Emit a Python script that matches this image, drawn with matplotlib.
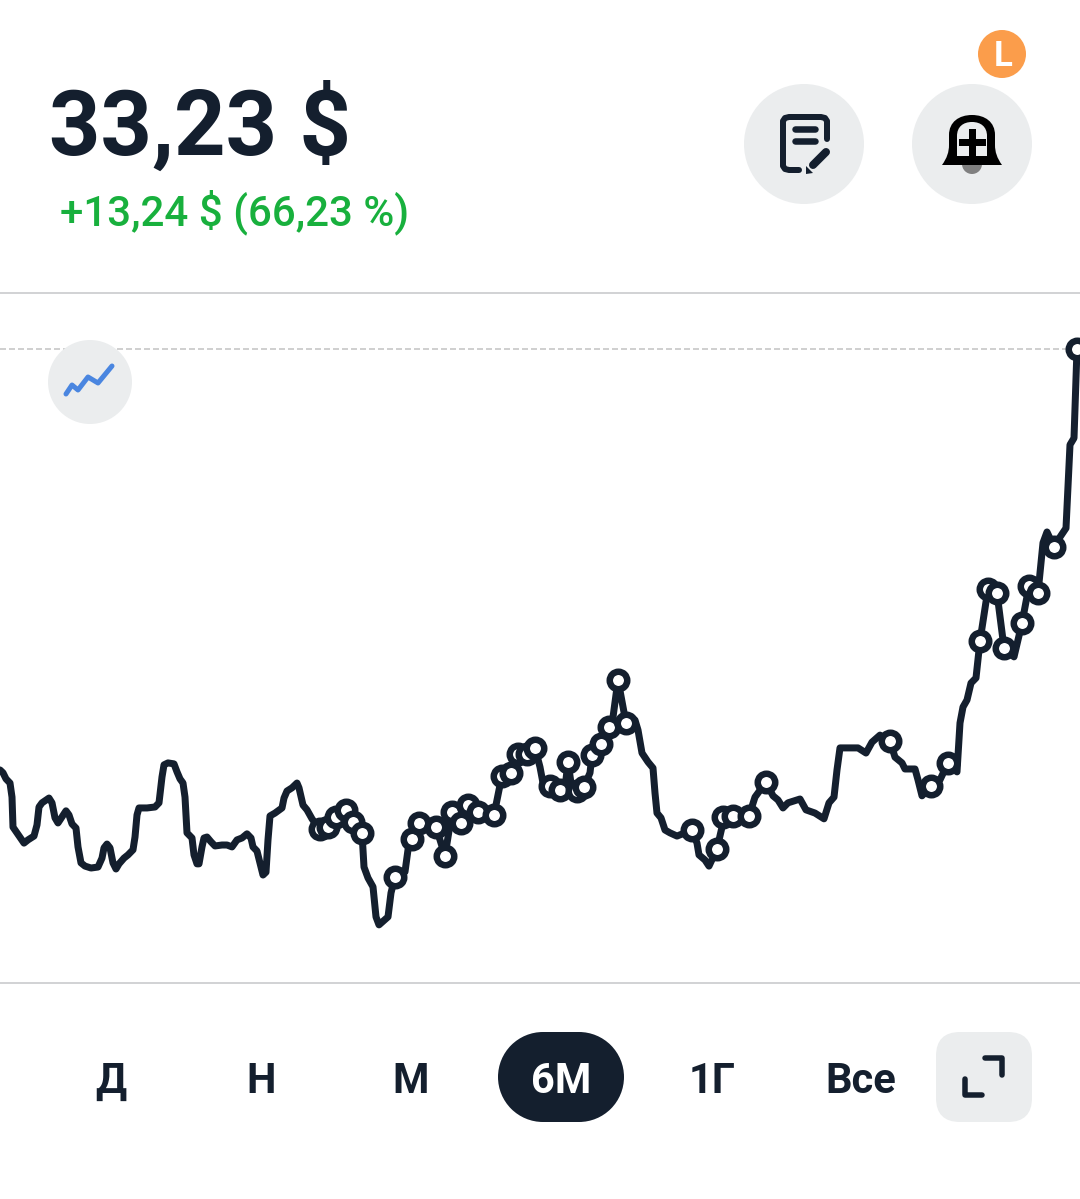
import matplotlib
matplotlib.use("Agg")
import matplotlib.pyplot as plt
from matplotlib.patches import Circle, FancyBboxPatch, PathPatch, Polygon, Rectangle, Wedge
from matplotlib.path import Path

# values
price_label = "33,23 $"
change_label = "+13,24 $ (66,23 %)"
periods = ["Д", "Н", "М", "6М", "1Г", "Все"]
period_x = [111, 261, 411, 561, 712, 861]
high_price = 33.23

line_x = [0, 3, 6, 10, 12, 13, 17, 20, 24, 28, 34, 37, 39, 42, 49, 52, 55, 58, 62, 66, 69, 72, 76, 78, 81, 85, 91, 98,
          102, 104, 107, 110, 113, 116, 119, 124, 128, 133, 135, 137, 139, 147, 155, 159, 162, 164, 168, 174, 177,
          180, 183, 185, 187, 192, 194, 197, 199, 202, 204, 207, 211, 215, 222, 227, 232, 237, 242, 247, 251, 253,
          257, 260, 263, 266, 268, 270, 275, 282, 284, 287, 292, 297, 299, 303, 307, 312, 315, 320, 328, 336, 346,
          353, 362, 364, 368, 373, 376, 379, 388, 391, 395, 405, 408, 412, 419, 436, 445, 452, 461, 468, 478, 494,
          499, 502, 511, 518, 527, 535, 540, 543, 550, 560, 565, 568, 572, 577, 584, 590, 592, 601, 609, 613, 618,
          626, 635, 638, 642, 648, 653, 655, 657, 661, 665, 670, 677, 692, 697, 699, 705, 709, 717, 722, 723, 733,
          749, 755, 766, 773, 778, 783, 788, 800, 806, 815, 824, 829, 834, 837, 840, 848, 858, 866, 872, 880, 890,
          895, 902, 905, 915, 918, 922, 931, 940, 948, 957, 960, 963, 967, 971, 976, 980, 988, 997, 1004, 1014,
          1022, 1029, 1038, 1043, 1047, 1054, 1060, 1066, 1070, 1074, 1077]
line_price = [20.05, 19.96, 19.77, 19.64, 19.20, 18.26, 18.08, 17.95, 17.76, 17.86, 17.98, 18.33, 18.89, 19.02, 19.17,
              19.02, 18.55, 18.39, 18.58, 18.77, 18.64, 18.36, 18.23, 17.64, 17.14, 17.04, 16.98, 17.01, 17.29, 17.61,
              17.73, 17.61, 17.14, 16.95, 17.11, 17.29, 17.39, 17.55, 17.95, 18.64, 18.86, 18.86, 18.89, 19.02, 19.83,
              20.21, 20.27, 20.24, 19.99, 19.77, 19.64, 19.20, 18.08, 17.92, 17.39, 17.11, 17.11, 17.64, 17.92, 17.95,
              17.80, 17.67, 17.70, 17.70, 17.64, 17.86, 17.92, 18.05, 17.92, 17.64, 17.51, 17.14, 16.76, 16.85, 17.86,
              18.61, 18.70, 18.86, 19.17, 19.39, 19.49, 19.64, 19.49, 18.95, 18.80, 18.52, 18.39, 18.20, 18.26, 18.58,
              18.80, 18.42, 18.08, 17.01, 16.67, 16.39, 15.45, 15.20, 15.45, 16.20, 16.70, 16.86, 17.55, 17.89, 18.39,
              18.26, 17.36, 18.73, 18.39, 18.95, 18.73, 18.64, 19.42, 19.86, 19.96, 20.55, 20.55, 20.74, 20.14, 19.64,
              19.55, 19.42, 19.48, 20.30, 19.42, 19.39, 19.52, 19.96, 20.52, 20.86, 21.39, 21.70, 22.87, 21.52, 21.61,
              21.30, 20.58, 20.30, 20.11, 19.33, 18.70, 18.55, 18.17, 18.08, 17.98, 18.17, 17.76, 17.39, 17.23, 17.04,
              17.58, 18.26, 18.58, 18.61, 18.61, 19.20, 19.67, 19.24, 19.11, 18.86, 19.02, 19.14, 18.80, 18.70, 18.52,
              19.02, 19.20, 20.05, 20.74, 20.74, 20.74, 20.58, 20.92, 21.14, 20.95, 20.45, 20.27, 20.08, 20.08, 19.74,
              19.24, 19.55, 19.74, 20.27, 19.99, 21.52, 22.02, 22.24, 22.77, 22.93, 24.09, 25.72, 25.59, 23.87, 23.59,
              24.65, 25.81, 25.59, 27.16, 27.50, 27.03, 27.34, 27.62, 30.23, 30.44, 33.23]
marker_x = [320, 328, 336, 346, 353, 362, 395, 412, 419, 436, 445, 452, 461, 468, 478, 494, 502, 511, 518, 527, 535,
            550, 560, 568, 577, 584, 592, 601, 609, 618, 626, 692, 717, 723, 733, 749, 766, 890, 931, 948, 980, 988,
            997, 1004, 1022, 1029, 1038, 1054, 1077]

DARK = "#141f2e"
GREY = "#ebedee"
GREEN = "#18b03d"
SEP = "#d2d3d5"
DPI = 100
W, H = 1080, 1199


def px(n):
    """Pixel width to points."""
    return n * 72 / DPI


fig = plt.figure(figsize=(W / DPI, H / DPI), dpi=DPI, facecolor="white")

# chart area, between the two separators
chart = fig.add_axes([0, (H - 983) / H, 1, 689 / H], zorder=1)
chart.set_xlim(0, 1080)
chart.set_ylim(13.38, 34.95)
chart.axis("off")
chart.axhline(high_price, color="#d0d0d0", lw=px(2), dashes=(3, 1.5))
chart.plot(line_x, line_price, color=DARK, lw=px(7), solid_joinstyle="round", solid_capstyle="round")
marker_price = [line_price[line_x.index(x)] for x in marker_x]
chart.plot(marker_x, marker_price, ls="none", marker="o", ms=px(17.5), mew=px(6.5), mec=DARK, mfc="white")

# everything around the chart, in screen pixels
ui = fig.add_axes([0, 0, 1, 1], zorder=2)
ui.set_xlim(0, W)
ui.set_ylim(H, 0)
ui.axis("off")
ui.patch.set_alpha(0)

ui.plot([0, W], [293, 293], color=SEP, lw=px(2))
ui.plot([0, W], [983, 983], color=SEP, lw=px(2))

ui.text(49, 155, price_label, fontsize=64.8, fontweight="bold", family="Roboto", color=DARK, va="baseline")
ui.text(60, 225, change_label, fontsize=30.3, fontweight="medium", family="Roboto", color=GREEN, va="baseline")

# round buttons
ui.add_patch(Circle((804, 144), 60, color=GREY, lw=0))
ui.add_patch(Circle((972, 144), 60, color=GREY, lw=0))
ui.add_patch(Circle((1002, 54), 24, color="#fb9d4b", lw=0))
ui.text(1003, 53, "L", fontsize=25, fontweight="bold", family="Roboto", color="white", ha="center", va="center_baseline")

# note icon
ui.plot([827, 827, 825, 821, 789, 785, 783, 783, 785, 789, 799],
        [139, 121, 118, 117, 117, 118, 121, 166, 169, 170, 170],
        color=DARK, lw=px(6), solid_capstyle="round", solid_joinstyle="round")
ui.plot([795, 815], [129, 129], color=DARK, lw=px(6.5), solid_capstyle="round")
ui.plot([795, 815], [141, 141], color=DARK, lw=px(6.5), solid_capstyle="round")
ui.plot([813, 826], [165, 152], color=DARK, lw=px(8), solid_capstyle="round")
ui.add_patch(Polygon([[806, 166], [806, 174], [813, 173]], color=DARK, lw=0))

# bell icon
ui.add_patch(Wedge((972, 164), 10, 0, 180, color="#808080", lw=0))
bell = Path([(942, 165), (947, 158), (949, 152), (949, 145), (949, 135), (949, 122), (959, 115), (972, 115),
             (985, 115), (995, 122), (995, 135), (995, 145), (995, 152), (997, 158), (1002, 165), (942, 165)],
            [Path.MOVETO, Path.CURVE4, Path.CURVE4, Path.CURVE4, Path.LINETO, Path.CURVE4, Path.CURVE4, Path.CURVE4,
             Path.CURVE4, Path.CURVE4, Path.CURVE4, Path.LINETO, Path.CURVE4, Path.CURVE4, Path.CURVE4, Path.CLOSEPOLY])
ui.add_patch(PathPatch(bell, color="black", lw=0))
hollow = Path([(957, 156), (957, 136), (957, 127), (963, 122), (972, 122), (981, 122), (987, 127), (987, 136),
               (987, 156), (957, 156)],
              [Path.MOVETO, Path.LINETO, Path.CURVE4, Path.CURVE4, Path.CURVE4, Path.CURVE4, Path.CURVE4, Path.CURVE4,
               Path.LINETO, Path.CLOSEPOLY])
ui.add_patch(PathPatch(hollow, color=GREY, lw=0))
ui.plot([962, 982], [142, 142], color="black", lw=px(7))
ui.plot([972, 972], [132, 152], color="black", lw=px(7))

# trend badge sits on top of the dashed line
ui.add_patch(Circle((90, 382), 42, color=GREY, lw=0))
ui.plot([66, 72, 78, 88, 98, 112], [394, 385, 390, 377, 383, 366], color="#4a86e0", lw=px(5),
        solid_capstyle="round", solid_joinstyle="round")

# period selector
ui.add_patch(Circle((543, 1077), 45, color=DARK, lw=0))
ui.add_patch(Circle((579, 1077), 45, color=DARK, lw=0))
ui.add_patch(Rectangle((543, 1032), 36, 90, color=DARK, lw=0))
for name, x in zip(periods, period_x):
    col = "white" if name == "6М" else DARK
    ui.text(x, 1093, name, fontsize=30, fontweight="bold", family="Roboto", color=col, ha="center", va="baseline")

# expand button
ui.add_patch(FancyBboxPatch((960, 1056), 48, 42, boxstyle="round,pad=24,rounding_size=24", color=GREY, lw=0))
ui.plot([985, 1002, 1002], [1058, 1058, 1075], color=DARK, lw=px(5.5), solid_capstyle="round", solid_joinstyle="round")
ui.plot([965, 965, 982], [1079, 1095, 1095], color=DARK, lw=px(5.5), solid_capstyle="round", solid_joinstyle="round")

fig.savefig("out.png", dpi=DPI, facecolor="white")
